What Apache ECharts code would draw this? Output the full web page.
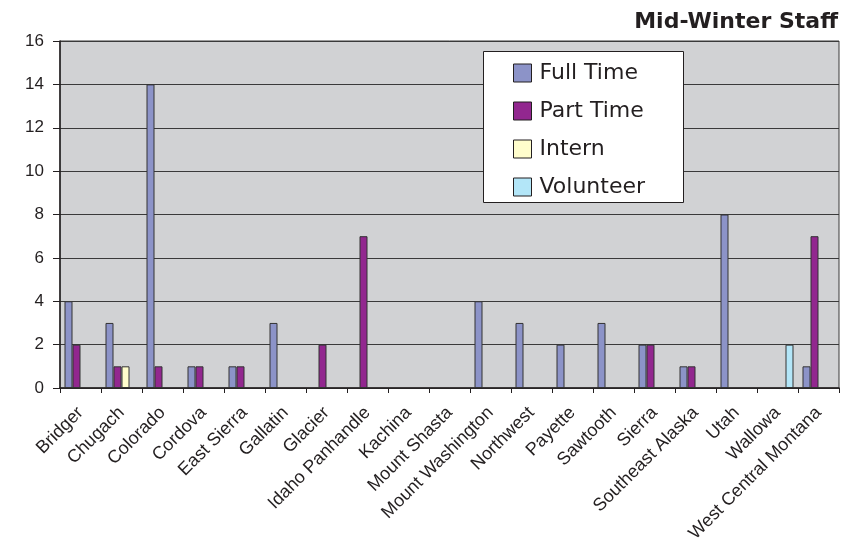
<!DOCTYPE html>
<html><head><meta charset="utf-8">
<script src="https://cdn.jsdelivr.net/npm/echarts@6/dist/echarts.min.js"></script>
<style>html,body{margin:0;padding:0;background:#fff}#c{width:865px;height:550px}</style>
</head><body><div id="c"></div>
<script>
const categories = ['Bridger','Chugach','Colorado','Cordova','East Sierra','Gallatin','Glacier','Idaho Panhandle','Kachina','Mount Shasta','Mount Washington','Northwest','Payette','Sawtooth','Sierra','Southeast Alaska','Utah','Wallowa','West Central Montana'];
const fullTime  = [4,3,14,1,1,3,0,0,0,0,4,3,2,3,2,1,8,0,1];
const partTime  = [2,1,1,1,1,0,2,7,0,0,0,0,0,0,2,1,0,0,7];
const intern    = [0,1,0,0,0,0,0,0,0,0,0,0,0,0,0,0,0,0,0];
const volunteer = [0,0,0,0,0,0,0,0,0,0,0,0,0,0,0,0,0,2,0];
const yTicks = [0,2,4,6,8,10,12,14,16];

const chart = echarts.init(document.getElementById('c'));
const toData = arr => arr.map(v => v === 0 ? null : v);
const mk = (name, data, color) => ({
  name, type: 'bar', data: toData(data), barWidth: 8, barGap: '0%',
  itemStyle: { color, borderColor: '#333', borderWidth: 1 }
});
chart.setOption({
  animation: false,
  title: { text: 'Mid-Winter Staff', right: 22, top: 6,
    textStyle: { fontFamily: 'DejaVu Sans', fontWeight: 'bold', fontSize: 22, color: '#231F20' } },
  graphic: [{
    type: 'rect', left: 483, top: 51, z: 5,
    shape: { width: 200, height: 151 },
    style: { fill: '#fff', stroke: '#231F20', lineWidth: 1 }
  }],
  legend: {
    orient: 'vertical', left: 513, top: 62, z: 10, padding: 0,
    itemGap: 16, itemWidth: 18, itemHeight: 18, icon: 'rect',
    itemStyle: { borderColor: '#231F20', borderWidth: 1 },
    textStyle: { fontFamily: 'DejaVu Sans', fontSize: 22, color: '#231F20', lineHeight: 18, padding: [0,0,0,3] },
    data: ['Full Time','Part Time','Intern','Volunteer']
  },
  grid: { left: 60, right: 26, top: 41, bottom: 162, show: true, backgroundColor: '#D1D2D4', borderColor: '#3a3a3a', borderWidth: 1 },
  xAxis: {
    type: 'category', data: categories,
    axisLine: { lineStyle: { color: '#231F20', width: 1.5 } },
    axisTick: { show: true, length: 5, lineStyle: { color: '#231F20' } },
    axisLabel: { rotate: 45, interval: 0, fontFamily: 'Liberation Sans', fontSize: 18, color: '#231F20', margin: 22 }
  },
  yAxis: {
    type: 'value', min: yTicks[0], max: yTicks[yTicks.length-1], interval: 2,
    axisLine: { show: true, lineStyle: { color: '#231F20', width: 1.5 } },
    axisTick: { show: true, length: 7, lineStyle: { color: '#231F20' } },
    axisLabel: { fontFamily: 'Liberation Sans', fontSize: 17, color: '#231F20', margin: 16 },
    splitLine: { lineStyle: { color: '#3a3a3a', width: 1.2 } }
  },
  series: [
    mk('Full Time', fullTime, '#8C93C8'),
    mk('Part Time', partTime, '#92278F'),
    mk('Intern', intern, '#FFFDCC'),
    mk('Volunteer', volunteer, '#B3E6F8')
  ]
});
</script></body></html>
